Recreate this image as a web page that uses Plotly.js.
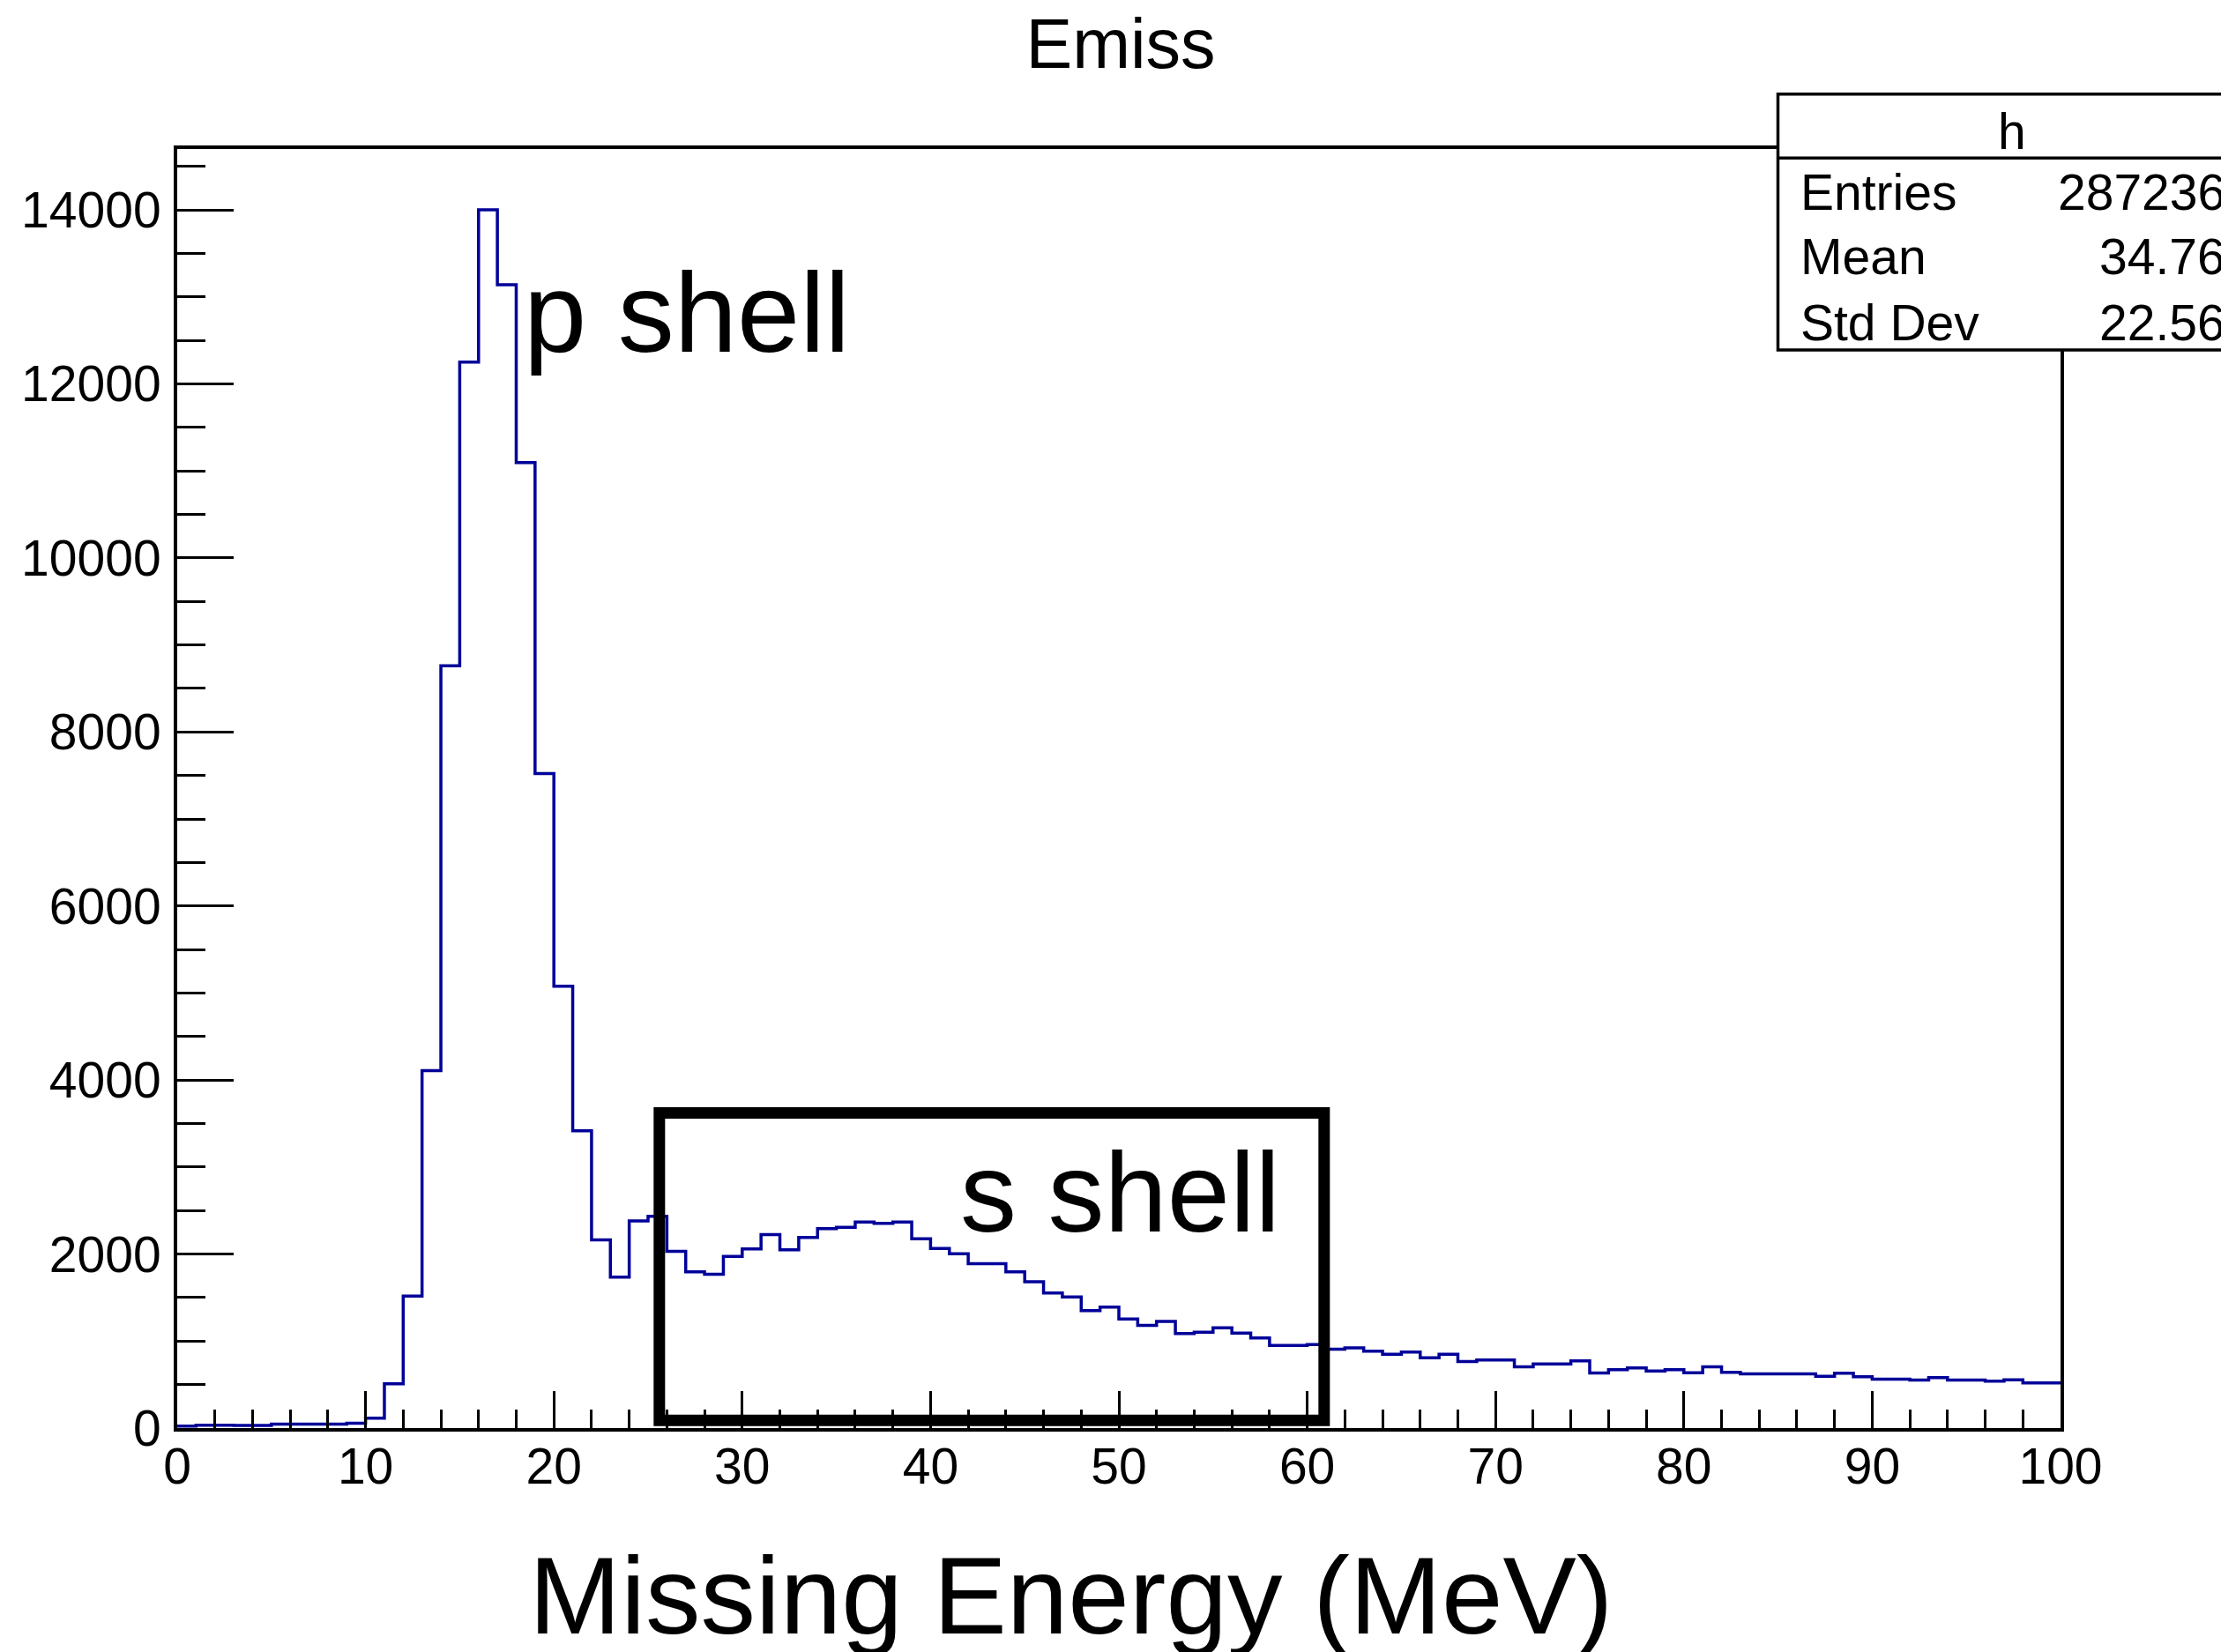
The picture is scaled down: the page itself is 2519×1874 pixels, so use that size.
<!DOCTYPE html>
<html>
<head>
<meta charset="utf-8">
<script src="https://cdn.plot.ly/plotly-3.0.1.min.js"></script>
<style>
  html, body { margin: 0; padding: 0; background: #ffffff; }
  #chart { width: 2519px; height: 1874px; }
</style>
</head>
<body>
<div id="chart"></div>
<script>
// ---------------- data ----------------
const chartTitle = "Emiss";
const xAxisTitle = "Missing Energy (MeV)";
const histName = "h";
const binLow = 0;
const binWidth = 1;
const counts = [
  22, 32, 32, 30, 30, 46, 46, 46, 46, 56,
  115, 508, 1517, 4108, 8762, 12251, 14000, 13139, 11096, 7521,
  5079, 3416, 2162, 1734, 2382, 2435, 2030, 1795, 1767, 1973,
  2058, 2223, 2048, 2190, 2291, 2307, 2368, 2352, 2368, 2176,
  2064, 2004, 1889, 1889, 1795, 1683, 1552, 1507, 1349, 1390,
  1254, 1180, 1227, 1086, 1102, 1153, 1092, 1035, 950, 950,
  960, 906, 923, 883, 849, 873, 808, 849, 765, 782,
  782, 704, 737, 737, 772, 633, 671, 691, 656, 670,
  636, 704, 640, 623, 623, 623, 623, 596, 630, 589,
  562, 562, 552, 579, 552, 552, 539, 555, 518, 518
];
const statLabels = ["Entries", "Mean", "Std Dev"];
const statValues = ["287236", "34.76", "22.56"];
const xTickVals = [0, 10, 20, 30, 40, 50, 60, 70, 80, 90, 100];
const yTickVals = [0, 2000, 4000, 6000, 8000, 10000, 12000, 14000];
const shellLabels = ["p shell", "s shell"];
const sShellWindow = [25.6, 60.9];   // MeV
const sShellHeight = [89, 3621];     // counts

// ---------------- histogram outline (step) ----------------
const edgesX = [];
const stepY = [];
for (let i = 0; i < counts.length; i++) {
  edgesX.push(binLow + i * binWidth);
  stepY.push(counts[i]);
}
edgesX.push(binLow + counts.length * binWidth);
stepY.push(counts[counts.length - 1]);

const FONT = "Liberation Sans, Arial, Helvetica, sans-serif";
const W = 2519, H = 1874;
const L = 201, R = 2337, T = 169, B = 1620;
const px2x = p => (p - L) / (R - L);
const py2y = p => (B - p) / (B - T);

const trace = {
  type: "scatter",
  mode: "lines",
  x: edgesX,
  y: stepY,
  line: { shape: "hv", color: "#000099", width: 3.5 },
  hoverinfo: "x+y",
  showlegend: false
};

const statFont = { family: FONT, size: 57, color: "#000000" };
const annotations = [
  // x axis title
  { text: xAxisTitle, xref: "paper", yref: "paper",
    x: px2x(1215), y: py2y(1809), xanchor: "center", yanchor: "middle",
    showarrow: false, font: { family: FONT, size: 125, color: "#000" } },
  // shell labels
  { text: shellLabels[0], xref: "paper", yref: "paper",
    x: px2x(592), y: py2y(354), xanchor: "left", yanchor: "middle",
    showarrow: false, font: { family: FONT, size: 128, color: "#000" } },
  { text: shellLabels[1], xref: "paper", yref: "paper",
    x: px2x(1087), y: py2y(1352), xanchor: "left", yanchor: "middle",
    showarrow: false, font: { family: FONT, size: 128, color: "#000" } },
  // stats box
  { text: histName, xref: "paper", yref: "paper",
    x: px2x(2282), y: py2y(149), xanchor: "center", yanchor: "middle",
    showarrow: false, font: statFont }
];
const statY = [218, 291, 366];
for (let i = 0; i < statLabels.length; i++) {
  annotations.push({ text: statLabels[i], xref: "paper", yref: "paper",
    x: px2x(2040), y: py2y(statY[i]), xanchor: "left", yanchor: "middle",
    showarrow: false, font: statFont });
  annotations.push({ text: statValues[i], xref: "paper", yref: "paper",
    x: px2x(2526), y: py2y(statY[i]), xanchor: "right", yanchor: "middle",
    showarrow: false, font: statFont });
}

const shapes = [
  // s shell window
  { type: "rect", xref: "x", yref: "y",
    x0: sShellWindow[0], x1: sShellWindow[1], y0: sShellHeight[0], y1: sShellHeight[1],
    line: { color: "#000000", width: 13 }, fillcolor: "rgba(0,0,0,0)", layer: "above" },
  // stats box
  { type: "rect", xref: "paper", yref: "paper",
    x0: px2x(2016.5), x1: px2x(2600), y0: py2y(397), y1: py2y(106.7),
    line: { color: "#000000", width: 3.5 }, fillcolor: "#ffffff", layer: "above" },
  { type: "line", xref: "paper", yref: "paper",
    x0: px2x(2016.5), x1: px2x(2600), y0: py2y(179.3), y1: py2y(179.3),
    line: { color: "#000000", width: 3.5 }, layer: "above" }
];

const layout = {
  width: W, height: H,
  paper_bgcolor: "#ffffff", plot_bgcolor: "#ffffff",
  font: { family: FONT, color: "#000000" },
  margin: { l: L, r: W - R, t: T, b: H - B, pad: 0 },
  showlegend: false,
  title: { text: chartTitle, font: { family: FONT, size: 79, color: "#000" },
           xref: "container", yref: "container", x: 1271 / W, y: 1 - 49 / H,
           xanchor: "center", yanchor: "middle" },
  xaxis: {
    range: [binLow, binLow + counts.length * binWidth],
    tickvals: xTickVals, ticktext: xTickVals.map(String),
    ticks: "inside", ticklen: 42, tickwidth: 3, tickcolor: "#000",
    minor: { ticks: "inside", ticklen: 21, tickwidth: 3, tickcolor: "#000", dtick: 2, tick0: 0, showgrid: false },
    showline: true, linewidth: 4, linecolor: "#000", mirror: true,
    showgrid: false, zeroline: false,
    tickfont: { family: FONT, size: 57, color: "#000" },
    ticklabelstandoff: -9
  },
  yaxis: {
    range: [0, 14700],
    tickvals: yTickVals, ticktext: yTickVals.map(String),
    ticks: "inside", ticklen: 64, tickwidth: 3, tickcolor: "#000",
    minor: { ticks: "inside", ticklen: 32, tickwidth: 3, tickcolor: "#000", dtick: 500, tick0: 0, showgrid: false },
    showline: true, linewidth: 4, linecolor: "#000", mirror: true,
    showgrid: false, zeroline: false,
    tickfont: { family: FONT, size: 57, color: "#000" },
    ticklabelstandoff: 3
  },
  shapes: shapes,
  annotations: annotations
};

Plotly.newPlot("chart", [trace], layout, { staticPlot: true, displayModeBar: false });
</script>
</body>
</html>
